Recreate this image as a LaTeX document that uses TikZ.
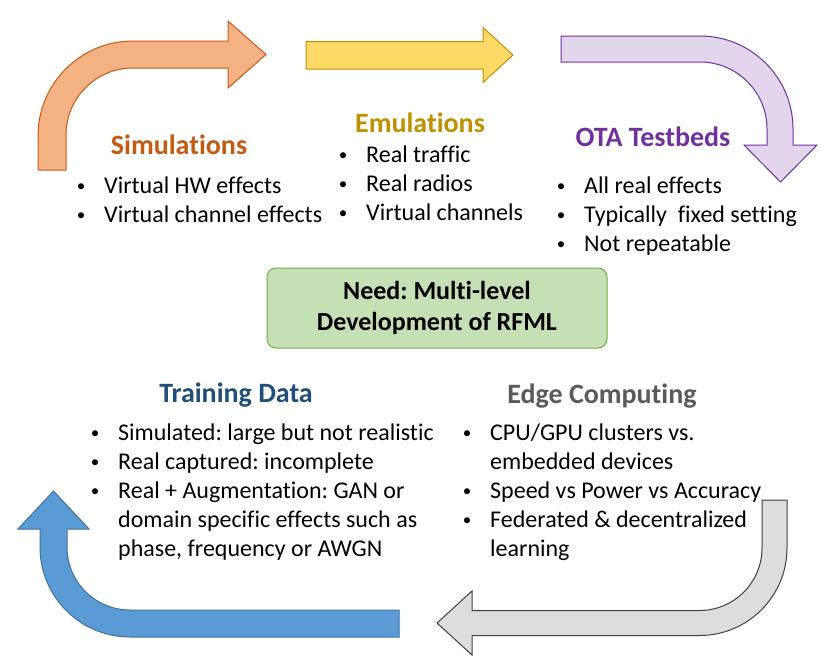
\documentclass[tikz,border=0pt]{standalone}
\usepackage{fontspec}
\setmainfont{Carlito}[Ligatures=NoCommon]
\frenchspacing

\definecolor{simfill}{HTML}{F4B183}
\definecolor{simline}{HTML}{C55A11}
\definecolor{emufill}{HTML}{FFD966}
\definecolor{emuline}{HTML}{BF9000}
\definecolor{otafill}{HTML}{E2D6EC}
\definecolor{otaline}{HTML}{7030A0}
\definecolor{edgefill}{HTML}{DDDDDD}
\definecolor{edgeline}{HTML}{404040}
\definecolor{edgetext}{HTML}{5A5A5A}
\definecolor{datafill}{HTML}{5B9BD5}
\definecolor{dataline}{HTML}{41719C}
\definecolor{datatext}{HTML}{1F4E79}
\definecolor{needfill}{HTML}{C5E0B4}
\definecolor{needline}{HTML}{70AD47}

\begin{document}
\begin{tikzpicture}[x=1pt, y=1pt, yscale=-1,
    blockarrow/.style={line width=1pt, line join=miter},
    title/.style={anchor=base, inner sep=0pt, font=\fontsize{28}{34}\selectfont\bfseries},
    blist/.style={anchor=base west, inner sep=0pt, font=\fontsize{24}{29}\selectfont}]

    \useasboundingbox (0, 0) rectangle (830, 656);

    % Simulations -> Emulations (gebogener Pfeil)
    \filldraw[blockarrow, fill=simfill, draw=simline]
    (38, 170) -- (38, 136) arc[start angle=180, end angle=270, radius=95]
    -- (228, 41) -- (228, 21) -- (266, 54.5) -- (228, 88) -- (228, 68)
    -- (133, 68) arc[start angle=270, end angle=180, radius=67] -- (66, 170) -- cycle;

    % Emulations -> OTA (gerader Pfeil)
    \filldraw[blockarrow, fill=emufill, draw=emuline]
    (306, 41.5) -- (483, 41.5) -- (483, 27.5) -- (513, 55) -- (483, 82.5)
    -- (483, 69) -- (306, 69) -- cycle;

    % OTA -> nach unten
    \filldraw[blockarrow, fill=otafill, draw=otaline]
    (561, 36) -- (700, 36) arc[start angle=270, end angle=360, radius=93]
    -- (793, 145) -- (817, 145) -- (780.5, 182) -- (744, 145) -- (767, 145)
    -- (767, 129) arc[start angle=0, end angle=-90, radius=67] -- (561, 62) -- cycle;

    % Edge Computing -> Training Data
    \filldraw[blockarrow, fill=edgefill, draw=edgeline]
    (762, 500) -- (787, 500) -- (787, 548) arc[start angle=0, end angle=90, radius=87.5]
    -- (472, 635.5) -- (472, 655) -- (437, 623) -- (472, 591) -- (472, 610.5)
    -- (699.5, 610.5) arc[start angle=90, end angle=0, radius=62.5] -- cycle;

    % Training Data -> nach oben
    \filldraw[blockarrow, fill=datafill, draw=dataline]
    (40, 529) -- (40, 547) arc[start angle=180, end angle=90, radius=90]
    -- (399, 637) -- (399, 610) -- (130, 610) arc[start angle=90, end angle=180, radius=63]
    -- (67, 529) -- (89, 529) -- (53.5, 491) -- (18, 529) -- cycle;

    % Titel
    \node[title, simline] (simtitle) at (179, 154) {Simulations};
    \node[title, emuline] (emutitle) at (420, 132) {Emulations};
    \node[title, otaline] (otatitle) at (653, 146) {OTA Testbeds};
    \node[title, datatext] (datatitle) at (236, 402) {Training Data};
    \node[title, edgetext] (edgetitle) at (602, 403) {Edge Computing};

    % Stichpunkte
    \node[blist] (simlist) at (77, 193) {\begin{tabular}[t]{@{}l@{\hspace{19pt}}l@{}}
        \makebox[8pt]{\fontsize{17}{17}\selectfont\raisebox{1.5pt}{\textbullet}} & Virtual HW effects\\
        \makebox[8pt]{\fontsize{17}{17}\selectfont\raisebox{1.5pt}{\textbullet}} & Virtual channel effects
      \end{tabular}};
    \node[blist] (emulist) at (339, 162) {\begin{tabular}[t]{@{}l@{\hspace{19pt}}l@{}}
        \makebox[8pt]{\fontsize{17}{17}\selectfont\raisebox{1.5pt}{\textbullet}} & Real traffic\\
        \makebox[8pt]{\fontsize{17}{17}\selectfont\raisebox{1.5pt}{\textbullet}} & Real radios\\
        \makebox[8pt]{\fontsize{17}{17}\selectfont\raisebox{1.5pt}{\textbullet}} & Virtual channels
      \end{tabular}};
    \node[blist] (otalist) at (557, 193) {\begin{tabular}[t]{@{}l@{\hspace{19pt}}l@{}}
        \makebox[8pt]{\fontsize{17}{17}\selectfont\raisebox{1.5pt}{\textbullet}} & All real effects\\
        \makebox[8pt]{\fontsize{17}{17}\selectfont\raisebox{1.5pt}{\textbullet}} & Typically\ \ fixed setting\\
        \makebox[8pt]{\fontsize{17}{17}\selectfont\raisebox{1.5pt}{\textbullet}} & Not repeatable
      \end{tabular}};
    \node[blist] (datalist) at (91, 440) {\begin{tabular}[t]{@{}l@{\hspace{19pt}}l@{}}
        \makebox[8pt]{\fontsize{17}{17}\selectfont\raisebox{1.5pt}{\textbullet}} & Simulated: large but not realistic\\
        \makebox[8pt]{\fontsize{17}{17}\selectfont\raisebox{1.5pt}{\textbullet}} & Real captured: incomplete\\
        \makebox[8pt]{\fontsize{17}{17}\selectfont\raisebox{1.5pt}{\textbullet}} & Real + Augmentation: GAN or\\
        & domain specific effects such as\\
        & phase, frequency or AWGN
      \end{tabular}};
    \node[blist] (edgelist) at (463, 440) {\begin{tabular}[t]{@{}l@{\hspace{19pt}}l@{}}
        \makebox[8pt]{\fontsize{17}{17}\selectfont\raisebox{1.5pt}{\textbullet}} & CPU/GPU clusters vs.\\
        & embedded devices\\
        \makebox[8pt]{\fontsize{17}{17}\selectfont\raisebox{1.5pt}{\textbullet}} & Speed vs Power vs Accuracy\\
        \makebox[8pt]{\fontsize{17}{17}\selectfont\raisebox{1.5pt}{\textbullet}} & Federated \& decentralized\\
        & learning
      \end{tabular}};

    % Mitte
    \node[draw=needline, fill=needfill, line width=1pt, rounded corners=9pt,
      minimum width=340, minimum height=80, align=center,
      font=\fontsize{26}{31}\selectfont\bfseries] (need) at (437, 308)
      {Need: Multi-level\\Development of RFML};

  \end{tikzpicture}
\end{document}
